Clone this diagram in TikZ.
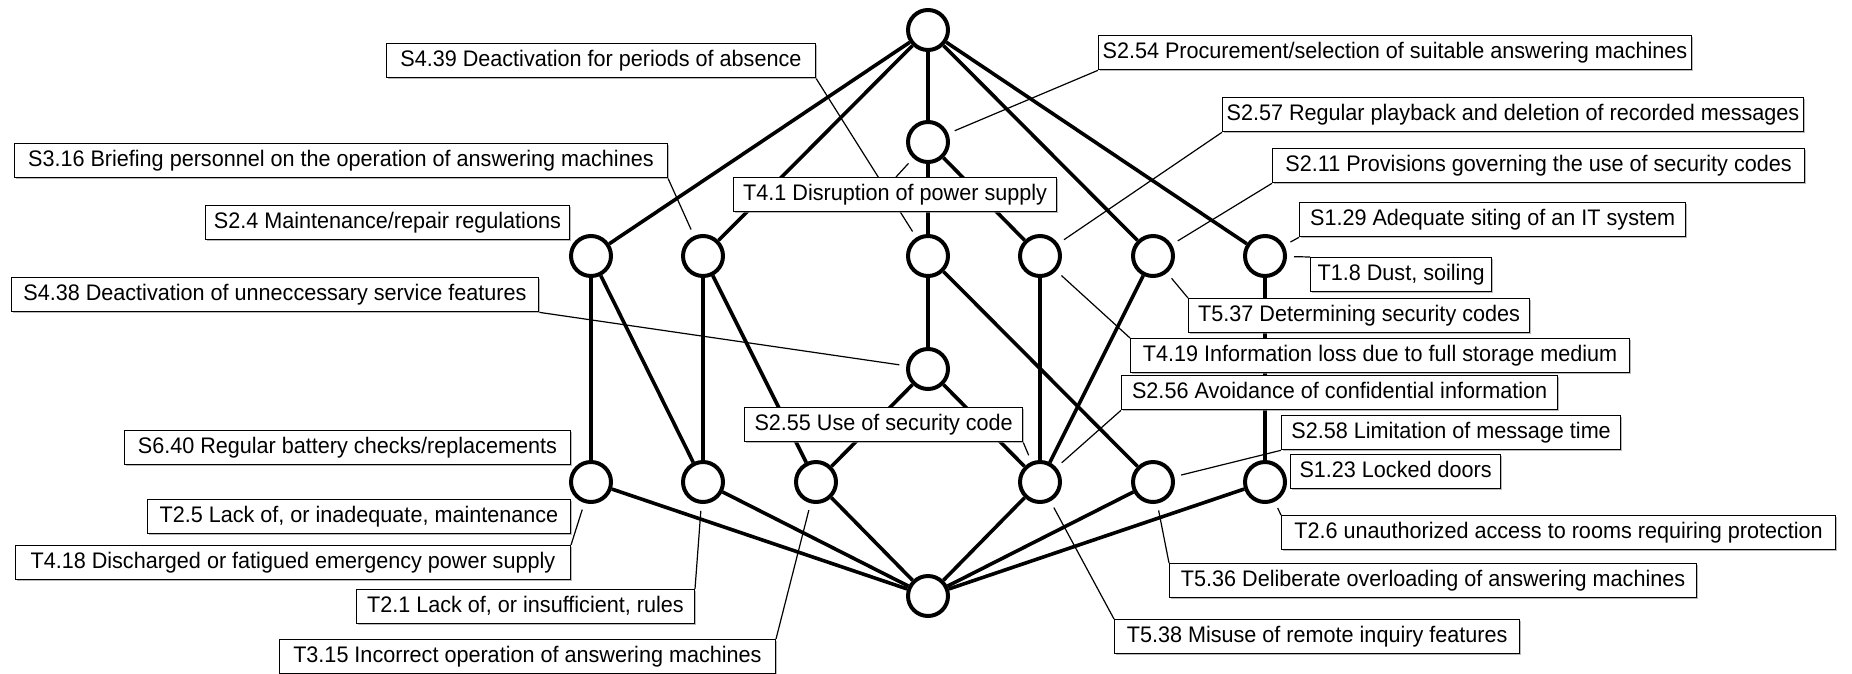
\documentclass[tikz,border=0pt]{standalone}
\usepackage{fontspec}
\setmainfont[FakeStretch=0.96]{Liberation Sans}
\usetikzlibrary{shadows,backgrounds}
\begin{document}
\begin{tikzpicture}[x=1pt,y=-1pt,
  vert/.style={circle,draw,line width=4pt,fill=white,minimum size=40pt,inner sep=0pt},
  edge/.style={line width=3.6pt},
  lbl/.style={draw,line width=1.2pt,fill=white,font=\fontsize{22.5}{27}\selectfont,
    text height=16.5pt,text depth=5pt,inner ysep=6.3pt,inner xsep=4pt,minimum width=#1,
    drop shadow={shadow xshift=1.5pt,shadow yshift=-1.5pt,fill=black!45,opacity=0.6}},
  lead/.style={line width=1.2pt,shorten >=7pt}]
\useasboundingbox (0,0) rectangle (1852,673);
% lattice vertices
\node[vert] (top) at (928,30) {};
\node[vert] (a) at (928,142) {};
\node[vert] (n1) at (591,256) {};
\node[vert] (n2) at (703,256) {};
\node[vert] (n3) at (928,256) {};
\node[vert] (n4) at (1040,256) {};
\node[vert] (n5) at (1153,256) {};
\node[vert] (n6) at (1265,256) {};
\node[vert] (m) at (928,369) {};
\node[vert] (b1) at (591,482) {};
\node[vert] (b2) at (703,482) {};
\node[vert] (b3) at (816,482) {};
\node[vert] (b4) at (1040,482) {};
\node[vert] (b5) at (1153,482) {};
\node[vert] (b6) at (1265,482) {};
\node[vert] (bot) at (928,596) {};
% labels
\node[lbl=429pt,anchor=north east] (s439) at (816,43) {S4.39 Deactivation for periods of absence};
\node[lbl=584pt,anchor=north west] (s254) at (1098,35) {S2.54 Procurement/selection of suitable answering machines};
\node[lbl=572pt,anchor=north west] (s257) at (1222,97) {S2.57 Regular playback and deletion of recorded messages};
\node[lbl=653pt,anchor=north east] (s316) at (668,143) {S3.16 Briefing personnel on the operation of answering machines};
\node[lbl=532pt,anchor=north west] (s211) at (1272,148) {S2.11 Provisions governing the use of security codes};
\node[lbl=323pt,anchor=north west] (t41) at (733,177) {T4.1 Disruption of power supply};
\node[lbl=364pt,anchor=north east] (s24) at (570,205) {S2.4 Maintenance/repair regulations};
\node[lbl=386pt,anchor=north west] (s129) at (1299,202) {S1.29 Adequate siting of an IT system};
\node[lbl=181pt,anchor=north west] (t18) at (1310,257) {T1.8 Dust, soiling};
\node[lbl=527pt,anchor=north east] (s438) at (539,277) {S4.38 Deactivation of unneccessary service features};
\node[lbl=341pt,anchor=north west] (t537) at (1188,298) {T5.37 Determining security codes};
\node[lbl=499pt,anchor=north west] (t419) at (1130,338) {T4.19 Information loss due to full storage medium};
\node[lbl=436pt,anchor=north west] (s256) at (1121,375) {S2.56 Avoidance of confidential information};
\node[lbl=278pt,anchor=north west] (s255) at (744,407) {S2.55 Use of security code};
\node[lbl=339pt,anchor=north west] (s258) at (1281,415) {S2.58 Limitation of message time};
\node[lbl=446pt,anchor=north east] (s640) at (571,430) {S6.40 Regular battery checks/replacements};
\node[lbl=210pt,anchor=north west] (s123) at (1290,454) {S1.23 Locked doors};
\node[lbl=423pt,anchor=north east] (t25) at (571,499) {T2.5 Lack of, or inadequate, maintenance};
\node[lbl=554pt,anchor=north west] (t26) at (1281,515) {T2.6 unauthorized access to rooms requiring protection};
\node[lbl=555pt,anchor=north east] (t418) at (571,545) {T4.18 Discharged or fatigued emergency power supply};
\node[lbl=527pt,anchor=north west] (t536) at (1169,563) {T5.36 Deliberate overloading of answering machines};
\node[lbl=338pt,anchor=north east] (t21) at (695,589) {T2.1 Lack of, or insufficient, rules};
\node[lbl=405pt,anchor=north west] (t538) at (1114,619) {T5.38 Misuse of remote inquiry features};
\node[lbl=496pt,anchor=north east] (t315) at (776,639) {T3.15 Incorrect operation of answering machines};
\coordinate (t41a) at ([xshift=163pt]t41.north west);
\begin{pgfonlayer}{background}
% lattice edges
\draw[edge] (top) -- (n1);
\draw[edge] (top) -- (n2);
\draw[edge] (top) -- (a);
\draw[edge] (top) -- (n5);
\draw[edge] (top) -- (n6);
\draw[edge] (a) -- (n3);
\draw[edge] (a) -- (n4);
\draw[edge] (n1) -- (b1);
\draw[edge] (n1) -- (b2);
\draw[edge] (n2) -- (b2);
\draw[edge] (n2) -- (b3);
\draw[edge] (n3) -- (m);
\draw[edge] (n3) -- (b5);
\draw[edge] (n4) -- (b4);
\draw[edge] (n5) -- (b4);
\draw[edge] (n6) -- (b6);
\draw[edge] (m) -- (b3);
\draw[edge] (m) -- (b4);
\draw[edge] (b1) -- (bot);
\draw[edge] (b2) -- (bot);
\draw[edge] (b3) -- (bot);
\draw[edge] (b4) -- (bot);
\draw[edge] (b5) -- (bot);
\draw[edge] (b6) -- (bot);
% leader lines
\draw[lead] (s439.south east) -- (n3);
\draw[lead] (s254.south west) -- (a);
\draw[lead] (s316.south east) -- (n2);
\draw[lead] (s257.south west) -- (n4);
\draw[lead] (t41a) -- (a);
\draw[lead] (s211.south west) -- (n5);
\draw[lead] (s129.south west) -- (n6);
\draw[lead] (t18.north west) -- (n6);
\draw[lead] (t537.north west) -- (n5);
\draw[lead] (s438.south east) -- (m);
\draw[lead] (t419.north west) -- (n4);
\draw[lead] (s256.south west) -- (b4);
\draw[lead] (s255.south east) -- (b4);
\draw[lead] (s258.south west) -- (b5);
\draw[lead] (t26.north west) -- (b6);
\draw[lead] (t418.north east) -- (b1);
\draw[lead] (t536.north west) -- (b5);
\draw[lead] (t21.north east) -- (b2);
\draw[lead] (t538.north west) -- (b4);
\draw[lead] (t315.north east) -- (b3);
\end{pgfonlayer}
\end{tikzpicture}
\end{document}
